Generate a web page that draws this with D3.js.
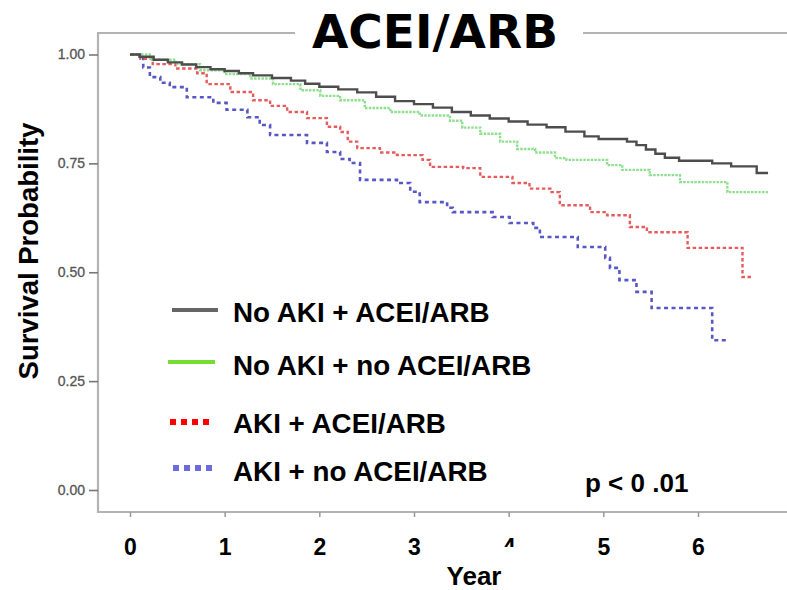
<!DOCTYPE html>
<html>
<head>
<meta charset="utf-8">
<script src="https://cdn.jsdelivr.net/npm/d3@7"></script>
<style>
  html, body { margin: 0; padding: 0; background: #fff; }
  svg { display: block; }
</style>
</head>
<body>
<svg id="chart" width="787" height="590"></svg>
<script>
// Kaplan-Meier survival estimates: [year, survival probability]
const noAkiAcei = [
  [0, 1.0], [0.1, 0.995], [0.25, 0.988], [0.4, 0.982], [0.55, 0.977], [0.7, 0.971],
  [0.85, 0.966], [1.0, 0.962], [1.15, 0.957], [1.3, 0.952], [1.5, 0.946], [1.7, 0.940],
  [1.85, 0.933], [2.0, 0.926], [2.2, 0.920], [2.4, 0.913], [2.6, 0.903], [2.8, 0.893],
  [3.0, 0.886], [3.2, 0.878], [3.4, 0.868], [3.6, 0.860], [3.8, 0.853], [4.0, 0.846],
  [4.2, 0.839], [4.4, 0.833], [4.6, 0.823], [4.8, 0.812], [4.95, 0.806], [5.25, 0.800],
  [5.35, 0.792], [5.45, 0.782], [5.55, 0.772], [5.65, 0.763], [5.8, 0.756], [6.15, 0.750],
  [6.35, 0.743], [6.62, 0.728], [6.74, 0.728]
];
const noAkiNoAcei = [
  [0, 1.0], [0.21, 0.988], [0.48, 0.978], [0.74, 0.964], [1.0, 0.955], [1.27, 0.945],
  [1.51, 0.932], [1.8, 0.918], [2.01, 0.905], [2.22, 0.895], [2.48, 0.877], [2.75, 0.868],
  [3.06, 0.860], [3.38, 0.848], [3.51, 0.832], [3.7, 0.818], [3.91, 0.800], [4.09, 0.783],
  [4.28, 0.775], [4.49, 0.762], [4.61, 0.758], [5.04, 0.746], [5.2, 0.735], [5.49, 0.723],
  [5.81, 0.707], [6.31, 0.684], [6.74, 0.684]
];
const akiAcei = [
  [0, 1.0], [0.11, 0.990], [0.24, 0.978], [0.48, 0.968], [0.71, 0.957], [0.81, 0.932],
  [1.06, 0.914], [1.3, 0.895], [1.48, 0.882], [1.66, 0.868], [1.87, 0.854], [2.08, 0.834],
  [2.22, 0.822], [2.3, 0.800], [2.4, 0.785], [2.64, 0.775], [2.82, 0.769], [3.09, 0.758],
  [3.17, 0.742], [3.52, 0.739], [3.7, 0.719], [4.04, 0.705], [4.22, 0.692], [4.44, 0.684],
  [4.54, 0.654], [4.86, 0.638], [5.04, 0.631], [5.28, 0.604], [5.46, 0.592], [5.89, 0.556],
  [6.47, 0.489], [6.58, 0.489]
];
const akiNoAcei = [
  [0, 1.0], [0.14, 0.970], [0.21, 0.948], [0.32, 0.935], [0.42, 0.925], [0.6, 0.902],
  [0.88, 0.889], [1.02, 0.873], [1.24, 0.856], [1.37, 0.838], [1.48, 0.815], [1.87, 0.797],
  [2.08, 0.776], [2.22, 0.760], [2.32, 0.751], [2.43, 0.712], [2.82, 0.705], [2.96, 0.685],
  [3.06, 0.661], [3.35, 0.648], [3.41, 0.638], [3.83, 0.627], [4.01, 0.613], [4.26, 0.602],
  [4.33, 0.581], [4.73, 0.558], [5.02, 0.533], [5.07, 0.510], [5.17, 0.482], [5.35, 0.455],
  [5.51, 0.418], [6.15, 0.344], [6.3, 0.344]
];

const seriesNames = ["No AKI + ACEI/ARB", "No AKI + no ACEI/ARB", "AKI + ACEI/ARB", "AKI + no ACEI/ARB"];
const xTicks = [0, 1, 2, 3, 4, 5, 6];
const yTicks = [0, 0.25, 0.5, 0.75, 1.0];

const svg = d3.select("#chart");
const sans = "'Liberation Sans', Arial, sans-serif";

const x = d3.scaleLinear().domain([0, 6]).range([130, 698]);
const y = d3.scaleLinear().domain([0, 1]).range([490, 54.5]);

// frame
const frameColor = "#b3b3b3";
svg.append("line").attr("x1", 98).attr("x2", 98).attr("y1", 33).attr("y2", 513)
  .attr("stroke", frameColor).attr("stroke-width", 2.2);
svg.append("line").attr("x1", 97).attr("x2", 787).attr("y1", 512).attr("y2", 512)
  .attr("stroke", frameColor).attr("stroke-width", 2.2);
svg.append("line").attr("x1", 97).attr("x2", 787).attr("y1", 33).attr("y2", 33)
  .attr("stroke", frameColor).attr("stroke-width", 2.2);

// y axis
const yAxis = svg.append("g").attr("transform", "translate(98,0)")
  .call(d3.axisLeft(y).tickValues(yTicks).tickFormat(d3.format(".2f")).tickSize(9).tickPadding(4));
yAxis.select(".domain").remove();
yAxis.selectAll(".tick line").attr("stroke", "#777").attr("stroke-width", 1.6);
yAxis.selectAll(".tick text").attr("font-family", sans).attr("font-size", 14)
  .attr("fill", "#555").attr("stroke", "#555").attr("stroke-width", 0.3);

// x axis
const xAxis = svg.append("g").attr("transform", "translate(0,512)")
  .call(d3.axisBottom(x).tickValues(xTicks).tickFormat(d3.format("d")).tickSize(5).tickPadding(22));
xAxis.select(".domain").remove();
xAxis.selectAll(".tick line").attr("stroke", "#999").attr("stroke-width", 1.5);
xAxis.selectAll(".tick text").attr("font-family", sans).attr("font-size", 23)
  .attr("font-weight", "bold").attr("fill", "#000");

// curves
const line = d3.line().x(d => x(d[0])).y(d => y(d[1])).curve(d3.curveStepAfter);
const curveStyles = [
  { data: noAkiAcei, color: "#4d4d4d", width: 2.4, dash: null },
  { data: noAkiNoAcei, color: "#8ee08e", width: 2.4, dash: "2.5,1.2" },
  { data: akiAcei, color: "#e65c5c", width: 2.4, dash: "3.5,2.5" },
  { data: akiNoAcei, color: "#5858c4", width: 2.6, dash: "4,3.5" }
];
curveStyles.slice().reverse().forEach(s => {
  svg.append("path").datum(s.data).attr("d", line)
    .attr("fill", "none").attr("stroke", s.color).attr("stroke-width", s.width)
    .attr("stroke-dasharray", s.dash);
});

// title over the top frame line
svg.append("rect").attr("x", 295).attr("y", 20).attr("width", 288).attr("height", 30).attr("fill", "#fff");
svg.append("text").attr("x", 435).attr("y", 48).attr("text-anchor", "middle")
  .attr("font-family", "'DejaVu Sans', Verdana, sans-serif").attr("font-weight", "bold")
  .attr("font-size", 47).attr("fill", "#000").text("ACEI/ARB");

// axis titles
svg.append("text").attr("transform", "translate(38,251) rotate(-90)").attr("text-anchor", "middle")
  .attr("font-family", sans).attr("font-weight", "bold").attr("font-size", 27.5)
  .attr("fill", "#000").text("Survival Probability");
svg.append("rect").attr("x", 438).attr("y", 547).attr("width", 80).attr("height", 42).attr("fill", "#fff");
svg.append("text").attr("x", 474).attr("y", 585).attr("text-anchor", "middle")
  .attr("font-family", sans).attr("font-weight", "bold").attr("font-size", 26)
  .attr("fill", "#000").text("Year");

// legend
const legendItems = [
  { name: seriesNames[0], x1: 172, x2: 218, ly: 310, ty: 322, color: "#666", width: 4, dash: null },
  { name: seriesNames[1], x1: 168, x2: 215, ly: 362, ty: 375, color: "#77dd33", width: 4, dash: null },
  { name: seriesNames[2], x1: 170, x2: 212, ly: 422, ty: 433, color: "#ff0000", width: 6, dash: "6,5" },
  { name: seriesNames[3], x1: 173, x2: 215, ly: 468, ty: 481, color: "#6b6bdd", width: 6, dash: "6,5" }
];
legendItems.forEach(d => {
  svg.append("text").attr("x", 233).attr("y", d.ty)
    .attr("font-family", sans).attr("font-weight", "bold").attr("font-size", 27.8)
    .attr("fill", "#000").text(d.name);
  svg.append("line").attr("x1", d.x1).attr("x2", d.x2).attr("y1", d.ly).attr("y2", d.ly)
    .attr("stroke", d.color).attr("stroke-width", d.width).attr("stroke-dasharray", d.dash);
});

svg.append("text").attr("x", 585).attr("y", 492)
  .attr("font-family", sans).attr("font-weight", "bold").attr("font-size", 26)
  .attr("fill", "#000").text("p < 0 .01");
</script>
</body>
</html>
